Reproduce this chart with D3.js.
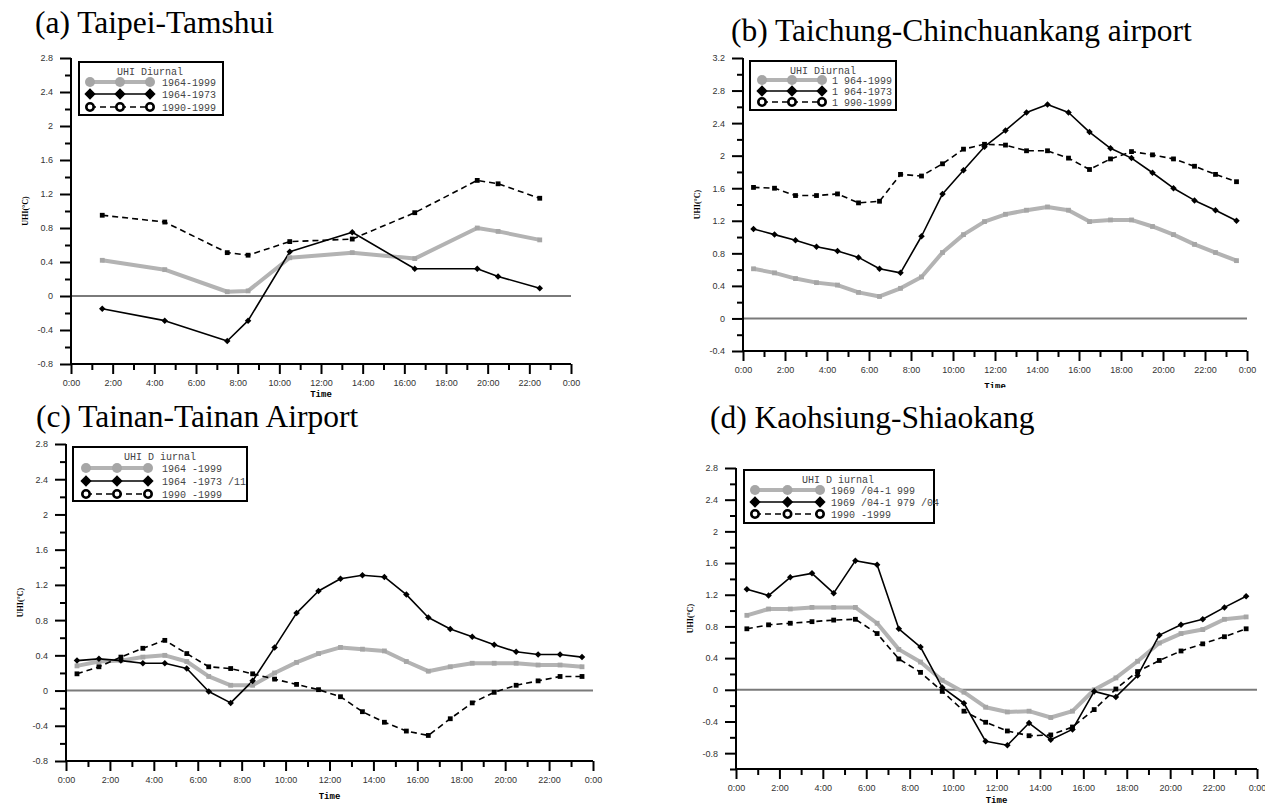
<!DOCTYPE html>
<html><head><meta charset="utf-8">
<script src="https://cdn.jsdelivr.net/npm/d3@7/dist/d3.min.js"></script>
<style>body{margin:0;background:#fff}svg{display:block}</style>
</head><body>
<svg id="chart" width="1265" height="805"></svg>
<script>
// ---------- data ----------
const hoursA = [1.5, 4.5, 7.5, 8.5, 10.5, 13.5, 16.5, 19.5, 20.5, 22.5];
const hours = [0.5,1.5,2.5,3.5,4.5,5.5,6.5,7.5,8.5,9.5,10.5,11.5,12.5,13.5,14.5,15.5,16.5,17.5,18.5,19.5,20.5,21.5,22.5,23.5];

const aAll    = [0.42, 0.31, 0.05, 0.06, 0.45, 0.51, 0.44, 0.80, 0.76, 0.66];
const aEarly  = [-0.15, -0.29, -0.53, -0.29, 0.52, 0.75, 0.32, 0.32, 0.23, 0.09];
const aRecent = [0.95, 0.87, 0.51, 0.48, 0.64, 0.67, 0.98, 1.36, 1.32, 1.15];

const bAll    = [0.61,0.56,0.49,0.44,0.41,0.32,0.27,0.37,0.51,0.81,1.03,1.19,1.28,1.33,1.37,1.33,1.19,1.21,1.21,1.13,1.03,0.91,0.81,0.71];
const bEarly  = [1.10,1.03,0.96,0.88,0.83,0.75,0.61,0.56,1.01,1.53,1.82,2.11,2.31,2.53,2.63,2.53,2.29,2.09,1.97,1.79,1.60,1.45,1.33,1.20];
const bRecent = [1.61,1.60,1.51,1.51,1.53,1.42,1.44,1.77,1.75,1.90,2.08,2.14,2.13,2.06,2.06,1.97,1.83,1.96,2.05,2.01,1.96,1.87,1.77,1.68];

const cAll    = [0.28,0.33,0.34,0.38,0.40,0.33,0.16,0.06,0.06,0.20,0.32,0.42,0.49,0.47,0.45,0.33,0.22,0.27,0.31,0.31,0.31,0.29,0.29,0.27];
const cEarly  = [0.34,0.36,0.34,0.31,0.31,0.25,-0.01,-0.14,0.11,0.49,0.88,1.13,1.27,1.31,1.29,1.09,0.83,0.70,0.61,0.52,0.44,0.41,0.41,0.38];
const cRecent = [0.19,0.27,0.38,0.48,0.57,0.42,0.27,0.25,0.19,0.13,0.07,0.01,-0.07,-0.24,-0.36,-0.46,-0.51,-0.32,-0.14,-0.02,0.06,0.11,0.16,0.16];

const dAll    = [0.94,1.02,1.02,1.04,1.04,1.04,0.84,0.51,0.35,0.12,-0.03,-0.22,-0.28,-0.27,-0.35,-0.27,0.00,0.15,0.36,0.59,0.71,0.76,0.89,0.92];
const dEarly  = [1.27,1.19,1.42,1.47,1.22,1.63,1.58,0.77,0.54,0.03,-0.17,-0.65,-0.70,-0.42,-0.63,-0.50,-0.02,-0.09,0.18,0.69,0.82,0.89,1.04,1.18];
const dRecent = [0.77,0.82,0.84,0.86,0.88,0.89,0.71,0.39,0.22,-0.02,-0.27,-0.41,-0.52,-0.58,-0.57,-0.47,-0.25,0.01,0.23,0.37,0.49,0.58,0.67,0.77];

const titles = ["(a) Taipei-Tamshui", "(b) Taichung-Chinchuankang airport", "(c) Tainan-Tainan Airport", "(d) Kaohsiung-Shiaokang"];
const legendTitles = ["UHI Diurnal", "UHI Diurnal", "UHI D iurnal", "UHI D iurnal"];
const legendA = ["1964-1999", "1964-1973", "1990-1999"];
const legendB = ["1 964-1999", "1 964-1973", "1 990-1999"];
const legendC = ["1964 -1999", "1964 -1973 /11", "1990 -1999"];
const legendD = ["1969 /04-1 999", "1969 /04-1 979 /04", "1990 -1999"];

const xTickHours  = [0,2,4,6,8,10,12,14,16,18,20,22,24];
const xTickLabels = ["0:00","2:00","4:00","6:00","8:00","10:00","12:00","14:00","16:00","18:00","20:00","22:00","0:00"];
const xMinorHours = [1,3,5,7,9,11,13,15,17,19,21,23];
const yTicksStd = [2.8,2.4,2,1.6,1.2,0.8,0.4,0,-0.4,-0.8];
const yTicksB   = [3.2,2.8,2.4,2,1.6,1.2,0.8,0.4,0,-0.4];
const yMinorStd = [2.6,2.2,1.8,1.4,1.0,0.6,0.2,-0.2,-0.6];
const yMinorB   = [3.0,2.6,2.2,1.8,1.4,1.0,0.6,0.2,-0.2];
const yMinorD   = [2.6,2.2,1.8,1.4,1.0,0.6,0.2,-0.2,-0.6,-1.0];

// ---------- layout ----------
const panels = [
  {x0:71, x1:571, yTop:58, yBot:364, dom:[-0.8,2.8], ticks:yTicksStd, minor:yMinorStd,
   title:titles[0], tx:35, ty:33, timeY:397, hx:hoursA, series:[aAll,aEarly,aRecent],
   leg:{x:79,y:62,w:144,h:53,lx0:90,lx1:150,tx:162,cy:[82,94,107],tcy:72,tcx:150}, legLabels:legendA, legTitle:legendTitles[0]},
  {x0:743, x1:1247, yTop:58, yBot:351, dom:[-0.4,3.2], ticks:yTicksB, minor:yMinorB,
   title:titles[1], tx:731, ty:41, timeY:389, hx:hours, series:[bAll,bEarly,bRecent],
   leg:{x:750,y:61,w:146,h:49,lx0:762,lx1:822,tx:832,cy:[80,91,102],tcy:71,tcx:823}, legLabels:legendB, legTitle:legendTitles[1], clipBottom:388},
  {x0:66, x1:593, yTop:444, yBot:761, dom:[-0.8,2.8], ticks:yTicksStd, minor:yMinorStd,
   title:titles[2], tx:36, ty:427, timeY:799, hx:hours, series:[cAll,cEarly,cRecent],
   leg:{x:73,y:447,w:174,h:54,lx0:86,lx1:148,tx:162,cy:[468,481,494],tcy:457,tcx:160}, legLabels:legendC, legTitle:legendTitles[2]},
  {x0:736, x1:1257, yTop:468, yBot:769, dom:[-1.0,2.8], ticks:yTicksStd, minor:yMinorD,
   title:titles[3], tx:710, ty:428, timeY:803, hx:hours, series:[dAll,dEarly,dRecent],
   leg:{x:744,y:470,w:190,h:53,lx0:755,lx1:820,tx:831,cy:[490,502,514],tcy:480,tcx:838}, legLabels:legendD, legTitle:legendTitles[3]}
];

const svg = d3.select("#chart");
const GRAY = "#b3b3b3", GRAYM = "#a6a6a6";

function marker(g, type, cx, cy, size, legend) {
  if (type === 0) {
    if (legend) g.append("circle").attr("cx",cx).attr("cy",cy).attr("r",size).attr("fill",GRAYM);
    else g.append("rect").attr("x",cx-size).attr("y",cy-size).attr("width",size*2).attr("height",size*2).attr("fill",GRAYM);
  } else if (type === 1) {
    g.append("path").attr("d", d3.symbol(d3.symbolDiamond2 || d3.symbolDiamond, size*size*4)()).attr("transform",`translate(${cx},${cy})`).attr("fill","#000");
  } else {
    if (legend) g.append("circle").attr("cx",cx).attr("cy",cy).attr("r",size-1.3).attr("fill","#fff").attr("stroke","#000").attr("stroke-width",2.6);
    else g.append("rect").attr("x",cx-size).attr("y",cy-size).attr("width",size*2).attr("height",size*2).attr("fill","#000");
  }
}

panels.forEach((p, pi) => {
  const g = svg.append("g");
  const x = d3.scaleLinear().domain([0,24]).range([p.x0, p.x1]);
  const y = d3.scaleLinear().domain(p.dom).range([p.yBot, p.yTop]);

  // title
  g.append("text").attr("x",p.tx).attr("y",p.ty).text(p.title)
    .attr("font-family","'Liberation Serif','Times New Roman',serif").attr("font-size",31.5).attr("fill","#000");

  // zero line
  g.append("line").attr("x1",p.x0).attr("x2",p.x1).attr("y1",y(0)).attr("y2",y(0))
    .attr("stroke","#7a7a7a").attr("stroke-width",2);

  // axes
  const yAx = g.append("g").attr("transform",`translate(${p.x0},0)`)
    .call(d3.axisLeft(y).tickValues(p.ticks).tickSize(11).tickPadding(7).tickFormat(d => String(+d.toFixed(1))));
  const yMin = g.append("g").attr("transform",`translate(${p.x0},0)`)
    .call(d3.axisLeft(y).tickValues(p.minor).tickSize(6).tickFormat(""));
  const xAx = g.append("g").attr("transform",`translate(0,${p.yBot})`)
    .call(d3.axisBottom(x).tickValues(xTickHours).tickSize(10).tickPadding(6).tickFormat((d,i) => xTickLabels[i]));
  const xMin = g.append("g").attr("transform",`translate(0,${p.yBot})`)
    .call(d3.axisBottom(x).tickValues(xMinorHours).tickSize(6).tickFormat(""));
  [yAx,yMin,xAx,xMin].forEach(a => {
    a.select(".domain").attr("stroke","#000").attr("stroke-width",2);
    a.selectAll(".tick line").attr("stroke","#000").attr("stroke-width",2);
    a.selectAll(".tick text").attr("font-family","'Liberation Sans',Arial,sans-serif").attr("font-size",9).attr("fill","#333");
  });
  yMin.select(".domain").remove(); xMin.select(".domain").remove();
  yAx.select(".domain").attr("d",`M0,${p.yBot}V${p.yTop}`);
  xAx.select(".domain").attr("d",`M${p.x0},0H${p.x1}`);

  // axis titles
  const tg = g.append("g");
  if (p.clipBottom) {
    svg.append("clipPath").attr("id","clip"+pi).append("rect").attr("x",0).attr("y",0).attr("width",1265).attr("height",p.clipBottom);
    tg.attr("clip-path",`url(#clip${pi})`);
  }
  tg.append("text").attr("x",(p.x0+p.x1)/2).attr("y",p.timeY).attr("text-anchor","middle")
    .attr("font-family","'Liberation Mono','Courier New',monospace").attr("font-weight","bold").attr("font-size",9).text("Time");
  g.append("text").attr("transform",`translate(${p.x0-43},${(p.yTop+p.yBot)/2}) rotate(-90)`).attr("text-anchor","middle")
    .attr("font-family","'Liberation Serif',serif").attr("font-weight","bold").attr("font-size",8).text("UHI(°C)");

  // series
  const line = d3.line().x((d,i) => x(p.hx[i])).y(d => y(d));
  const styles = [
    {stroke:GRAY, w:4, dash:null},
    {stroke:"#000", w:1.6, dash:null},
    {stroke:"#000", w:1.6, dash:"6,4"}
  ];
  p.series.forEach((s, si) => {
    g.append("path").datum(s).attr("d",line).attr("fill","none")
      .attr("stroke",styles[si].stroke).attr("stroke-width",styles[si].w)
      .attr("stroke-dasharray",styles[si].dash).attr("stroke-linejoin","round");
  });
  p.series.forEach((s, si) => {
    s.forEach((v,i) => marker(g, si, x(p.hx[i]), y(v), si===1 ? 2.6 : 2.4, false));
  });

  // legend
  const L = p.leg;
  const lg = g.append("g");
  lg.append("rect").attr("x",L.x).attr("y",L.y).attr("width",L.w).attr("height",L.h)
    .attr("fill","#fff").attr("stroke","#000").attr("stroke-width",2);
  lg.append("text").attr("x",L.tcx).attr("y",L.tcy+3).attr("text-anchor","middle")
    .attr("font-family","'Liberation Mono','Courier New',monospace").attr("font-size",10).attr("fill","#444").text(p.legTitle);
  p.legLabels.forEach((lab, si) => {
    const cy = L.cy[si];
    lg.append("line").attr("x1",L.lx0).attr("x2",L.lx1).attr("y1",cy).attr("y2",cy)
      .attr("stroke",styles[si].stroke).attr("stroke-width",styles[si].w).attr("stroke-dasharray",styles[si].dash);
    [L.lx0,(L.lx0+L.lx1)/2,L.lx1].forEach(mx => marker(lg, si, mx, cy, si===1 ? 4.5 : 5, true));
    lg.append("text").attr("x",L.tx).attr("y",cy+3.5)
      .attr("font-family","'Liberation Mono','Courier New',monospace").attr("font-size",10).attr("fill","#444").text(lab);
  });
});
</script>
</body></html>
